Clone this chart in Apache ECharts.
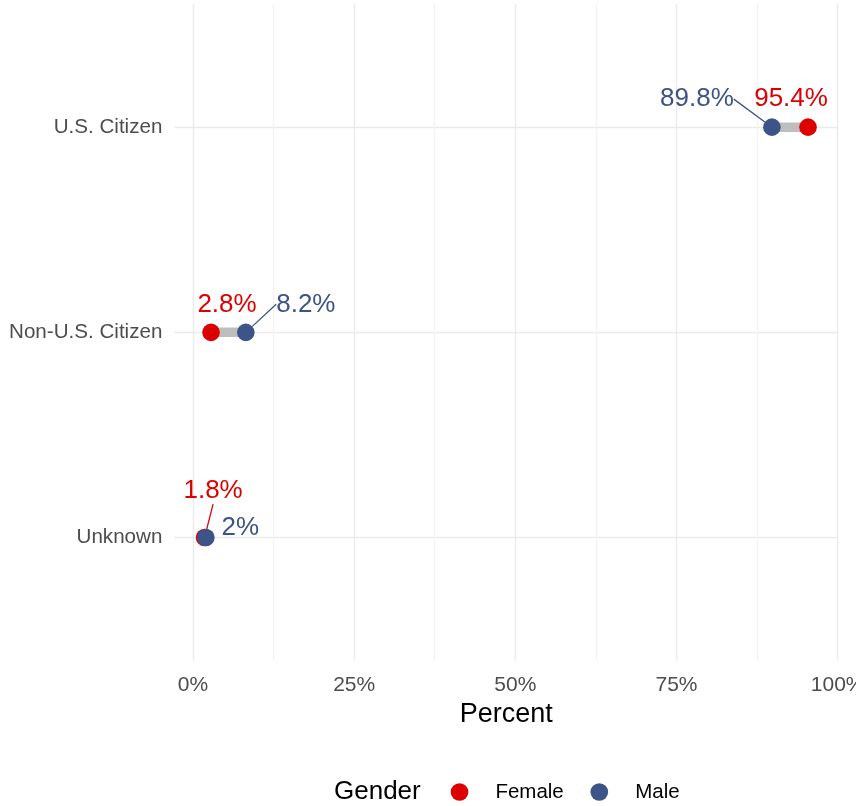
<!DOCTYPE html>
<html><head><meta charset="utf-8">
<script src="https://cdn.jsdelivr.net/npm/echarts@6/dist/echarts.min.js"></script>
<style>html,body{margin:0;padding:0;background:#fff}#c{width:856px;height:806px}</style>
</head><body><div id="c"></div>
<script>
const categories = ['U.S. Citizen', 'Non-U.S. Citizen', 'Unknown'];
const femaleValues = [95.4, 2.8, 1.8];
const maleValues = [89.8, 8.2, 2.0];
const xTickValues = [0, 25, 50, 75, 100];
const xGridValues = [0, 12.5, 25, 37.5, 50, 62.5, 75, 87.5, 100];
const genders = ['Female', 'Male'];

// label placement (pixel offsets of label centre from point centre), repel-style
const femaleLabelOffset = [[-17, -28], [16, -28], [8.5, -46.5]];
const maleLabelOffset = [[-75, -28], [60, -28], [34.5, -10]];
const femaleLeader = [false, false, true];
const maleLeader = [true, true, false];

const RED = '#DC0000', BLUE = '#3C5488';
const FONT = '"Liberation Sans", Arial, sans-serif';

const all = femaleValues.concat(maleValues);
const dMin = Math.min(...all), dMax = Math.max(...all);
const xMin = dMin - 0.05 * (dMax - dMin);
const xMax = dMax + 0.05 * (dMax - dMin);

const chart = echarts.init(document.getElementById('c'), null, {renderer: 'canvas'});

function pointSeries(name, values, offsets, leaders, color, z) {
  return {
    name: name, type: 'scatter', z: z,
    symbol: 'circle', symbolSize: 17.6,
    itemStyle: {color: color, opacity: 1},
    data: values.map((v, i) => ({value: [v, i], labelLine: {show: leaders[i]}})),
    label: {
      show: true, position: 'inside', color: color, fontSize: 26, fontFamily: FONT,
      padding: [0, 5], formatter: p => p.value[0] + '%'
    },
    labelLine: {show: false, lineStyle: {color: color, width: 1.3}},
    labelLayout: function (p) {
      const o = offsets[p.dataIndex];
      return {
        x: p.rect.x + p.rect.width / 2 + o[0],
        y: p.rect.y + p.rect.height / 2 + o[1],
        align: 'center', verticalAlign: 'middle'
      };
    },
    emphasis: {disabled: true}
  };
}

const option = {
  animation: false,
  backgroundColor: '#ffffff',
  textStyle: {fontFamily: FONT},
  grid: {left: 174.4, right: 17.8, top: 4, bottom: 145.3, containLabel: false, outerBoundsMode: 'none'},
  xAxis: {
    type: 'value', min: xMin, max: xMax,
    name: 'Percent', nameLocation: 'middle', nameGap: 40,
    nameTextStyle: {color: '#000000', fontSize: 27, fontFamily: FONT},
    axisLine: {show: false},
    axisTick: {show: false, customValues: xGridValues},
    axisLabel: {customValues: xTickValues, formatter: v => v + '%', color: '#4D4D4D',
      fontSize: 21, fontFamily: FONT, margin: 14},
    splitLine: {show: true, lineStyle: {color: ['#EBEBEB', '#F3F3F3'], width: 1.4}}
  },
  yAxis: {
    type: 'value', min: -0.6, max: categories.length - 0.4, inverse: true,
    axisLine: {show: false},
    axisTick: {show: false, customValues: categories.map((c, i) => i)},
    axisLabel: {customValues: categories.map((c, i) => i), formatter: v => categories[Math.round(v)],
      color: '#4D4D4D', fontSize: 20.6, fontFamily: FONT, margin: 12},
    splitLine: {show: true, lineStyle: {color: '#EBEBEB', width: 1.4}}
  },
  legend: {
    data: genders, icon: 'circle', left: 450.7, top: 781.5, padding: 0,
    itemWidth: 17.7, itemHeight: 17.7, itemGap: 26.7, selectedMode: false,
    textStyle: {color: '#000000', fontSize: 20.5, fontFamily: FONT, padding: [2, 0, 0, 22]}
  },
  graphic: [{
    type: 'text', left: 334, top: 779,
    style: {text: 'Gender', fontSize: 26, fontFamily: FONT, fill: '#000000'}
  }],
  series: [
    {
      type: 'custom', z: 1, silent: true,
      data: categories.map((c, i) => [femaleValues[i], maleValues[i], i]),
      encode: {x: [0, 1], y: 2},
      renderItem: function (params, api) {
        const y = api.value(2);
        const p1 = api.coord([api.value(0), y]);
        const p2 = api.coord([api.value(1), y]);
        return {type: 'line', shape: {x1: p1[0], y1: p1[1], x2: p2[0], y2: p2[1]},
          style: {stroke: '#BEBEBE', lineWidth: 9.5}};
      }
    },
    pointSeries('Female', femaleValues, femaleLabelOffset, femaleLeader, RED, 2),
    pointSeries('Male', maleValues, maleLabelOffset, maleLeader, BLUE, 3)
  ]
};
chart.setOption(option);
</script>
</body></html>
